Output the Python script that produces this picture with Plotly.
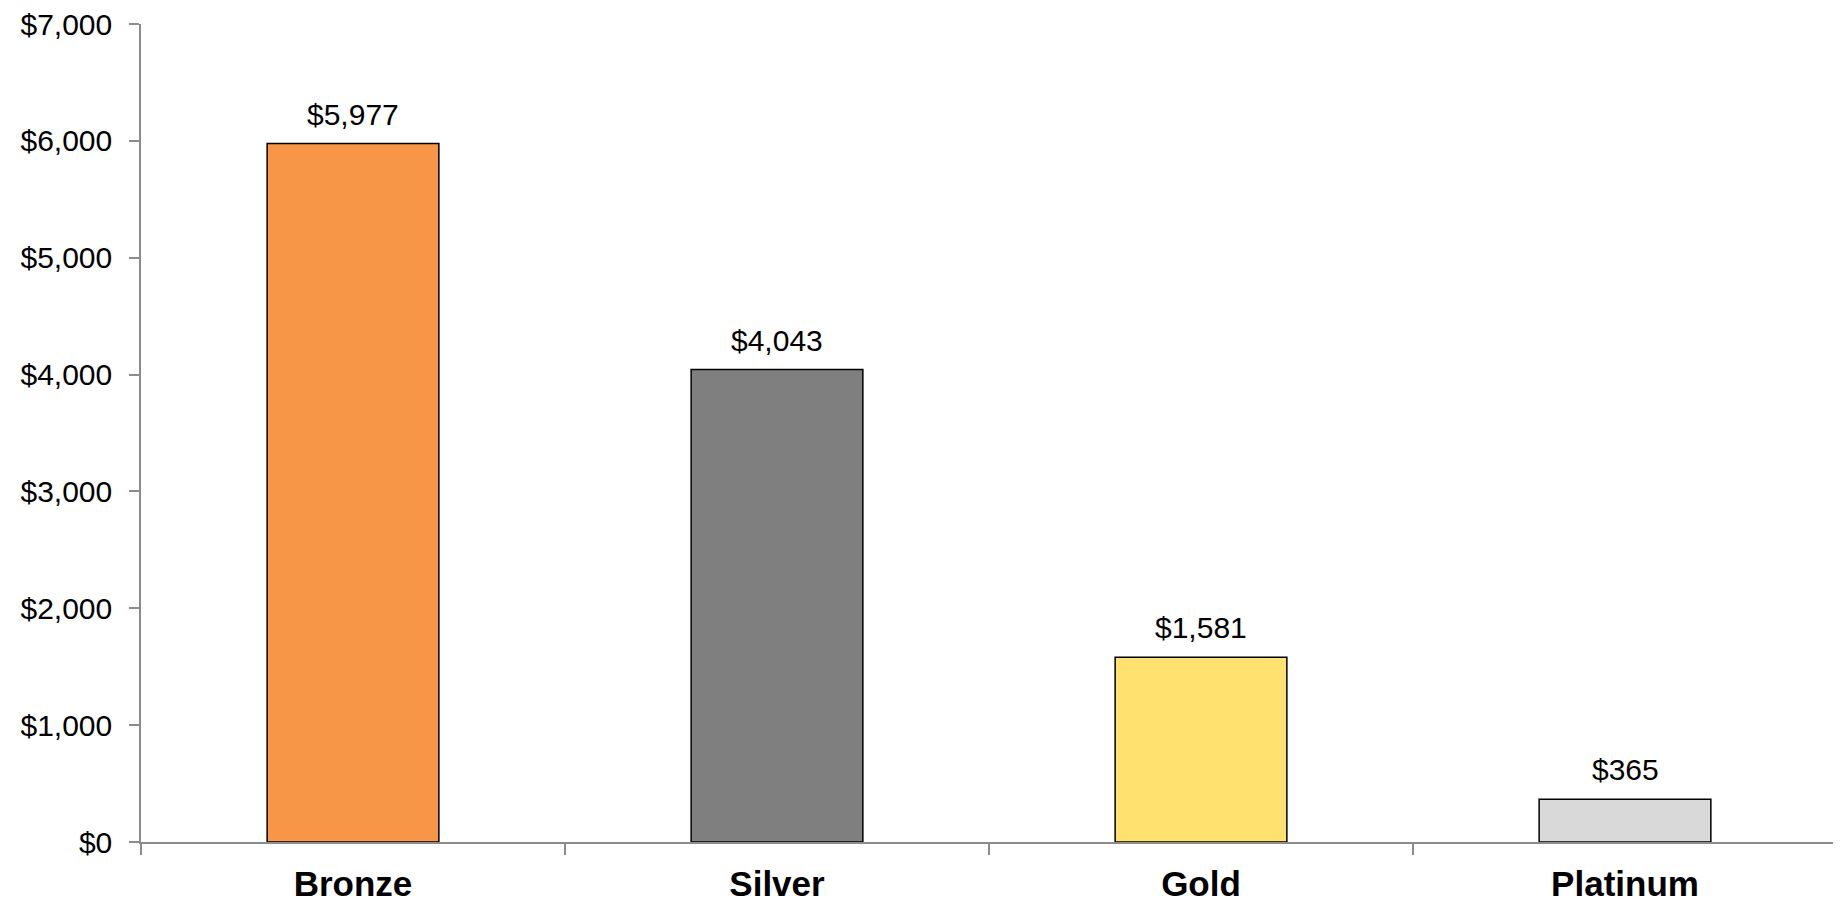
import plotly.graph_objects as go

categories = ["Bronze", "Silver", "Gold", "Platinum"]
values = [5977, 4043, 1581, 365]
colors = ["#F79646", "#7F7F7F", "#FFE16F", "#D9D9D9"]
y_ticks = [0, 1000, 2000, 3000, 4000, 5000, 6000, 7000]
y_tick_labels = ["$0", "$1,000", "$2,000", "$3,000", "$4,000", "$5,000", "$6,000", "$7,000"]
value_labels = ["$5,977", "$4,043", "$1,581", "$365"]

FONT = "Liberation Sans, Arial"

fig = go.Figure(go.Bar(
    x=categories,
    y=values,
    width=0.405,
    marker=dict(color=colors, line=dict(color="#000000", width=1.5)),
    hoverinfo="x+y",
))

for c, v, t in zip(categories, values, value_labels):
    fig.add_annotation(
        x=c, y=v, text=t, showarrow=False,
        yanchor="bottom", yshift=11,
        font=dict(family=FONT, size=30, color="#000000"),
    )

# page body has an 8px default margin; size the figure so the plot lands where the reference's does
fig.update_layout(
    template="none",
    width=1833, height=895,
    margin=dict(l=133, r=4, t=16, b=61, autoexpand=False),
    paper_bgcolor="white", plot_bgcolor="white",
    showlegend=False,
    font=dict(family=FONT, color="#000000"),
)
fig.update_xaxes(
    automargin=False,
    showline=True, linecolor="#8C8C8C", linewidth=1.5,
    ticks="outside", tickson="boundaries", ticklen=11, tickcolor="#8C8C8C", tickwidth=1.5,
    tickfont=dict(size=35, family=FONT, color="#000000", weight="bold"),
    ticklabelstandoff=10,
    showgrid=False, zeroline=False,
)
fig.update_yaxes(
    automargin=False, ticklabeloverflow="allow",
    range=[0, 7000], tickvals=y_ticks, ticktext=y_tick_labels,
    showline=True, linecolor="#8C8C8C", linewidth=1.5,
    ticks="outside", ticklen=10, tickcolor="#8C8C8C", tickwidth=1.5,
    tickfont=dict(size=30, family=FONT, color="#000000"),
    ticklabelstandoff=11,
    showgrid=False, zeroline=False,
)

fig.write_html("out.html")
